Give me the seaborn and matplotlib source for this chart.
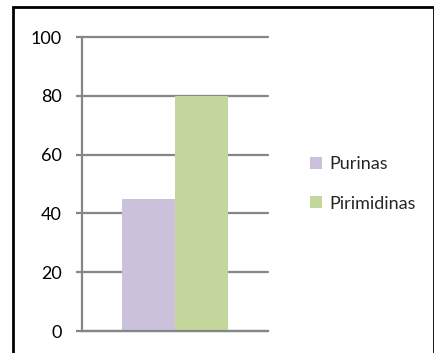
import matplotlib
matplotlib.use("Agg")
import matplotlib.pyplot as plt
from matplotlib.patches import Rectangle
import seaborn as sns
import pandas as pd

# Data
categories = [""]
series = ["Purinas", "Pirimidinas"]
purinas = [45]
pirimidinas = [80]
y_ticks = [0, 20, 40, 60, 80, 100]

colors = {"Purinas": "#CCC1DA", "Pirimidinas": "#C3D69B"}
grid_color = "#868686"

df = pd.DataFrame({
    "categoria": categories * 2,
    "serie": [series[0]] * len(purinas) + [series[1]] * len(pirimidinas),
    "valor": purinas + pirimidinas,
})

sns.set_style("white")
plt.rcParams["font.family"] = ["Lato", "DejaVu Sans"]

fig = plt.figure(figsize=(4.35, 3.53), dpi=100)
ax = fig.add_axes([82 / 435, 1 - 331 / 353, (268 - 82) / 435, (331 - 37) / 353])

sns.barplot(data=df, x="categoria", y="valor", hue="serie", hue_order=series,
            palette=colors, width=0.57, saturation=1, linewidth=0,
            ax=ax, legend=True)

ax.set_ylim(0, 100)
ax.set_yticks(y_ticks)
ax.set_yticklabels([str(t) for t in y_ticks], fontsize=13)
ax.set_xticks([])
ax.set_xlabel("")
ax.set_ylabel("")
ax.yaxis.grid(True, color=grid_color, linewidth=1.6)
for gl in ax.get_ygridlines():
    gl.set_clip_on(False)
ax.set_axisbelow(True)
for side in ["top", "right"]:
    ax.spines[side].set_visible(False)
for side in ["left", "bottom"]:
    ax.spines[side].set_color(grid_color)
    ax.spines[side].set_linewidth(1.6)
ax.tick_params(axis="y", length=4.5, width=1.6, color=grid_color, pad=10,
               labelcolor="black", left=True)

handles, labels = ax.get_legend_handles_labels()
ax.legend(handles, labels, loc="center left", bbox_to_anchor=(294 / 435, 1 - 184 / 353),
          bbox_transform=fig.transFigure, frameon=False, fontsize=13,
          handlelength=0.65, handleheight=0.65, handletextpad=0.4, labelspacing=1.3)

# Outer frame
fig.add_artist(Rectangle((13 / 435, -0.05), (434 - 13) / 435, 1.05 - 7 / 353,
                         transform=fig.transFigure, fill=False,
                         edgecolor="black", linewidth=2))

fig.savefig("out.png", dpi=100)
